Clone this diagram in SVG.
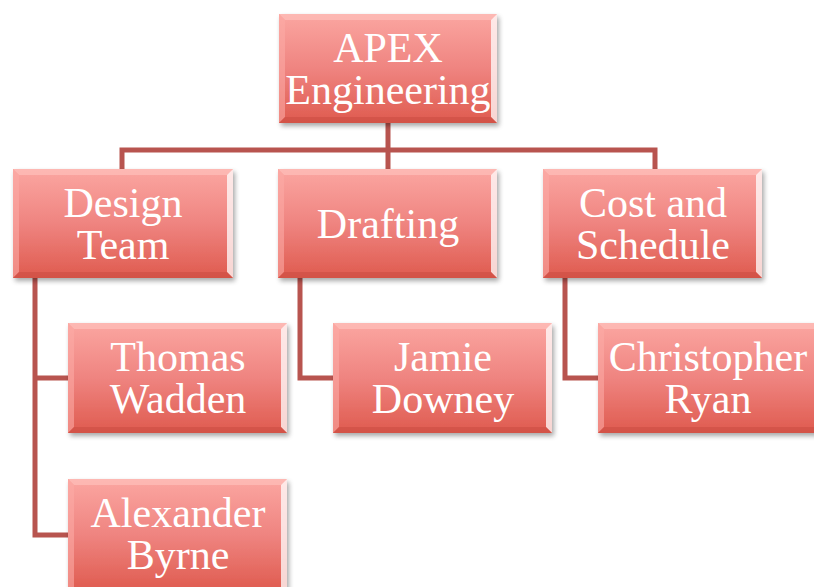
<svg xmlns="http://www.w3.org/2000/svg" width="814" height="587" viewBox="0 0 814 587">
<defs>
<linearGradient id="g" x1="0" y1="0" x2="0" y2="1">
<stop offset="0" stop-color="#fba6a1"/>
<stop offset="0.5" stop-color="#ef8480"/>
<stop offset="1" stop-color="#df5b4f"/>
</linearGradient>
<filter id="sh" x="-10%" y="-10%" width="130%" height="130%">
<feGaussianBlur in="SourceAlpha" stdDeviation="2.5"/>
<feOffset dx="2" dy="3" result="b"/>
<feComponentTransfer><feFuncA type="linear" slope="0.35"/></feComponentTransfer>
<feMerge><feMergeNode/><feMergeNode in="SourceGraphic"/></feMerge>
</filter>
</defs>
<style>
.box{fill:url(#g);filter:url(#sh)}
.bt{fill:#ffc4c0;opacity:0.6}
.bl{fill:#fbaaa5;opacity:0.6}
.br{fill:#ffffff;opacity:0.75}
.bb{fill:#c84a40;opacity:0.5}
.t{font-family:"Liberation Serif","DejaVu Serif",serif;font-size:42px;fill:#ffffff;text-anchor:middle}
.c{fill:none;stroke:#b8544f;stroke-width:5}
</style>
<g id="connectors">
<path class="c" d="M388,123 V150 M122,169 V150 H655 V169 M388,150 V169"/>
<path class="c" d="M35,278 V535 H68 M35,378 H68"/>
<path class="c" d="M300,278 V378 H333"/>
<path class="c" d="M565,278 V378 H598"/>
</g>
<g id="apex">
<rect class="box" x="279" y="14" width="218" height="109"/>
<polygon class="bt" points="279,14 497,14 491,20 285,20"/>
<polygon class="bl" points="279,14 285,20 285,117 279,123"/>
<polygon class="br" points="497,14 497,123 491,117 491,20"/>
<polygon class="bb" points="279,123 285,117 491,117 497,123"/>
<text class="t" x="388" y="62">APEX</text>
<text class="t" x="388" y="104">Engineering</text>
</g>
<g id="design">
<rect class="box" x="13" y="169" width="220" height="109"/>
<polygon class="bt" points="13,169 233,169 227,175 19,175"/>
<polygon class="bl" points="13,169 19,175 19,272 13,278"/>
<polygon class="br" points="233,169 233,278 227,272 227,175"/>
<polygon class="bb" points="13,278 19,272 227,272 233,278"/>
<text class="t" x="123" y="217">Design</text>
<text class="t" x="123" y="259">Team</text>
</g>
<g id="drafting">
<rect class="box" x="278" y="169" width="219" height="109"/>
<polygon class="bt" points="278,169 497,169 491,175 284,175"/>
<polygon class="bl" points="278,169 284,175 284,272 278,278"/>
<polygon class="br" points="497,169 497,278 491,272 491,175"/>
<polygon class="bb" points="278,278 284,272 491,272 497,278"/>
<text class="t" x="388" y="238">Drafting</text>
</g>
<g id="cost">
<rect class="box" x="543" y="169" width="219" height="109"/>
<polygon class="bt" points="543,169 762,169 756,175 549,175"/>
<polygon class="bl" points="543,169 549,175 549,272 543,278"/>
<polygon class="br" points="762,169 762,278 756,272 756,175"/>
<polygon class="bb" points="543,278 549,272 756,272 762,278"/>
<text class="t" x="653" y="217">Cost and</text>
<text class="t" x="653" y="259">Schedule</text>
</g>
<g id="thomas">
<rect class="box" x="68" y="323" width="219" height="110"/>
<polygon class="bt" points="68,323 287,323 281,329 74,329"/>
<polygon class="bl" points="68,323 74,329 74,427 68,433"/>
<polygon class="br" points="287,323 287,433 281,427 281,329"/>
<polygon class="bb" points="68,433 74,427 281,427 287,433"/>
<text class="t" x="178" y="371">Thomas</text>
<text class="t" x="178" y="413">Wadden</text>
</g>
<g id="alexander">
<rect class="box" x="68" y="479" width="219" height="112"/>
<polygon class="bt" points="68,479 287,479 281,485 74,485"/>
<polygon class="bl" points="68,479 74,485 74,591 68,591"/>
<polygon class="br" points="287,479 287,591 281,591 281,485"/>
<text class="t" x="178" y="527">Alexander</text>
<text class="t" x="178" y="569">Byrne</text>
</g>
<g id="jamie">
<rect class="box" x="333" y="323" width="219" height="110"/>
<polygon class="bt" points="333,323 552,323 546,329 339,329"/>
<polygon class="bl" points="333,323 339,329 339,427 333,433"/>
<polygon class="br" points="552,323 552,433 546,427 546,329"/>
<polygon class="bb" points="333,433 339,427 546,427 552,433"/>
<text class="t" x="443" y="371">Jamie</text>
<text class="t" x="443" y="413">Downey</text>
</g>
<g id="christopher">
<rect class="box" x="598" y="323" width="222" height="110"/>
<polygon class="bt" points="598,323 820,323 814,329 604,329"/>
<polygon class="bl" points="598,323 604,329 604,427 598,433"/>
<polygon class="bb" points="598,433 604,427 814,427 820,433"/>
<text class="t" x="708" y="371">Christopher</text>
<text class="t" x="708" y="413">Ryan</text>
</g>
</svg>
